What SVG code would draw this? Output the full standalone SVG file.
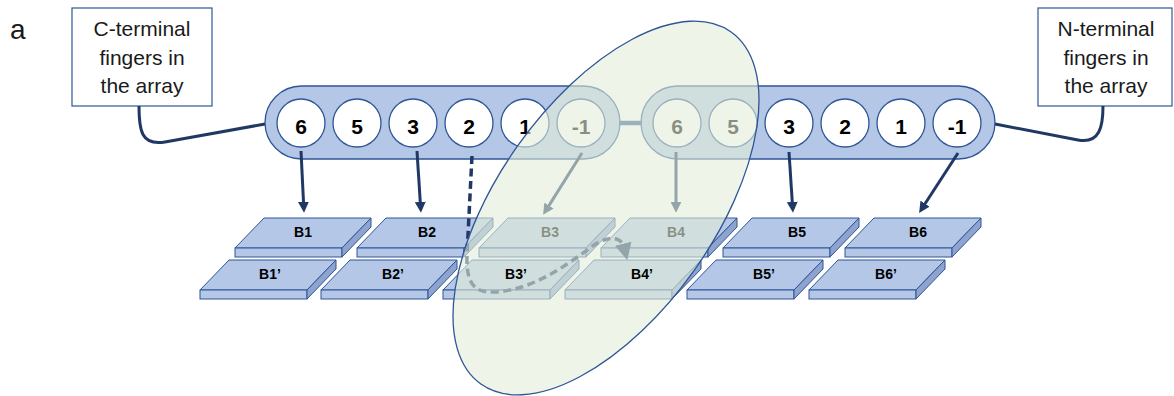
<svg xmlns="http://www.w3.org/2000/svg" width="1174" height="396" viewBox="0 0 1174 396">
  <style>
    .box { fill: #ffffff; stroke: #2f5597; stroke-width: 1.2; }
    .boxtxt { font-family: "Liberation Sans", Arial, sans-serif; font-size: 21px; fill: #1a1a1a; text-anchor: middle; }
    .pill { fill: #b4c7e7; stroke: #2f5597; stroke-width: 1.3; }
    .finger { fill: #ffffff; stroke: #2f5597; stroke-width: 1.3; }
    .ftxt { font-family: "Liberation Sans", Arial, sans-serif; font-size: 21px; font-weight: bold; fill: #000; text-anchor: middle; }
    .btxt { font-family: "Liberation Sans", Arial, sans-serif; font-size: 14px; font-weight: bold; fill: #000; text-anchor: middle; }
    .tether { fill: none; stroke: #203864; stroke-width: 3; }
    .arrow { fill: none; stroke: #203864; stroke-width: 3; marker-end: url(#head); }
    .dash { fill: none; stroke: #203864; stroke-width: 3.5; stroke-dasharray: 8 4.5; marker-end: url(#bighead); }
    .top { fill: #b4c7e7; stroke: #2f5597; stroke-width: 1; stroke-linejoin: round; }
    .front { fill: #b4c7e7; stroke: #2f5597; stroke-width: 1; }
    .side { fill: #8ea4cf; stroke: #2f5597; stroke-width: 1; stroke-linejoin: round; }
    .halo { fill: #e2efd9; fill-opacity: 0.6; stroke: #2f5597; stroke-width: 1.3; }
  </style>
  <defs>
    <marker id="head" viewBox="0 0 10 10" refX="2" refY="5" markerWidth="11" markerHeight="11" markerUnits="userSpaceOnUse" orient="auto">
      <path d="M0,0 L10,5 L0,10 z" fill="#203864"/>
    </marker>
    <marker id="bighead" viewBox="0 0 10 10" refX="2" refY="5" markerWidth="17" markerHeight="17" markerUnits="userSpaceOnUse" orient="auto">
      <path d="M0,0 L10,5 L0,10 z" fill="#203864"/>
    </marker>
    <!-- slab: origin at the front-left corner of the top face -->
    <g id="slab">
      <path class="top" d="M0,0 L29,-30 L136,-30 L107,0 Z"/>
      <rect class="front" x="0" y="0" width="107" height="9"/>
      <path class="side" d="M107,0 L136,-30 L136,-21 L107,9 Z"/>
    </g>
  </defs>

  <text x="10" y="39" font-family="Liberation Sans, Arial, sans-serif" font-size="28" fill="#1a1a1a">a</text>

  <!-- label boxes -->
  <g id="c-terminal-box">
    <rect class="box" x="72" y="8" width="140" height="98"/>
    <text class="boxtxt" x="142" y="36">C-terminal</text>
    <text class="boxtxt" x="142" y="65">fingers in</text>
    <text class="boxtxt" x="142" y="93">the array</text>
  </g>
  <g id="n-terminal-box">
    <rect class="box" x="1038" y="8" width="134" height="98"/>
    <text class="boxtxt" x="1106" y="36">N-terminal</text>
    <text class="boxtxt" x="1106" y="65">fingers in</text>
    <text class="boxtxt" x="1106" y="93">the array</text>
  </g>

  <!-- finger arrays -->
  <g id="left-array">
    <rect class="pill" x="265" y="86" width="355" height="73" rx="36.5"/>
  </g>
  <g id="right-array">
    <rect class="pill" x="641" y="86" width="354" height="73" rx="36.5"/>
  </g>
  <line x1="619" y1="123" x2="642" y2="123" stroke="#2f5597" stroke-width="4.5"/>

  <g id="fingers-left">
    <circle class="finger" cx="301" cy="123" r="24"/><text class="ftxt" x="301" y="134">6</text>
    <circle class="finger" cx="357" cy="123" r="24"/><text class="ftxt" x="357" y="134">5</text>
    <circle class="finger" cx="413" cy="123" r="24"/><text class="ftxt" x="413" y="134">3</text>
    <circle class="finger" cx="469" cy="123" r="24"/><text class="ftxt" x="469" y="134">2</text>
    <circle class="finger" cx="525" cy="123" r="24"/><text class="ftxt" x="525" y="134">1</text>
    <circle class="finger" cx="581" cy="123" r="24"/><text class="ftxt" x="581" y="134">-1</text>
  </g>
  <g id="fingers-right">
    <circle class="finger" cx="677" cy="123" r="24"/><text class="ftxt" x="677" y="134">6</text>
    <circle class="finger" cx="733" cy="123" r="24"/><text class="ftxt" x="733" y="134">5</text>
    <circle class="finger" cx="789" cy="123" r="24"/><text class="ftxt" x="789" y="134">3</text>
    <circle class="finger" cx="845" cy="123" r="24"/><text class="ftxt" x="845" y="134">2</text>
    <circle class="finger" cx="901" cy="123" r="24"/><text class="ftxt" x="901" y="134">1</text>
    <circle class="finger" cx="957" cy="123" r="24"/><text class="ftxt" x="957" y="134">-1</text>
  </g>

  <!-- DNA binding sites -->
  <g id="B1"><use href="#slab" x="235" y="248"/><text class="btxt" x="303" y="237">B1</text></g>
  <g id="B2"><use href="#slab" x="357" y="248"/><text class="btxt" x="427" y="237">B2</text></g>
  <g id="B3"><use href="#slab" x="479" y="248"/><text class="btxt" x="550" y="237">B3</text></g>
  <g id="B4"><use href="#slab" x="601" y="248"/><text class="btxt" x="676" y="237">B4</text></g>
  <g id="B5"><use href="#slab" x="723" y="248"/><text class="btxt" x="797" y="237">B5</text></g>
  <g id="B6"><use href="#slab" x="845" y="248"/><text class="btxt" x="918" y="237">B6</text></g>
  <g id="B1p"><use href="#slab" x="200" y="290"/><text class="btxt" x="270" y="279">B1’</text></g>
  <g id="B2p"><use href="#slab" x="321" y="290"/><text class="btxt" x="393" y="279">B2’</text></g>
  <g id="B3p"><use href="#slab" x="443" y="290"/></g>
  <g id="B4p"><use href="#slab" x="565" y="290"/></g>
  <g id="B5p"><use href="#slab" x="687" y="290"/><text class="btxt" x="764" y="279">B5’</text></g>
  <g id="B6p"><use href="#slab" x="809" y="290"/><text class="btxt" x="886" y="279">B6’</text></g>

  <!-- connectors -->
  <g id="connectors">
    <path class="tether" d="M265,124 L165,142 C141,146 139,130 139,106"/>
    <path class="tether" d="M995,124 L1078,140 C1100,144 1103,126 1103,106"/>
    <line class="arrow" x1="301" y1="151" x2="303.6" y2="204"/>
    <line class="arrow" x1="417" y1="151" x2="420.4" y2="204"/>
    <line class="arrow" x1="582" y1="153" x2="547.8" y2="207.4"/>
    <line class="arrow" x1="676" y1="152" x2="676" y2="204"/>
    <line class="arrow" x1="789" y1="152" x2="792.4" y2="204"/>
    <line class="arrow" x1="958" y1="153" x2="923.9" y2="205.5"/>
    <path class="dash" d="M472,156 L467,255 C466,285 475,293 495,292 C530,290 560,270 590,248 C605,236 621,235 624,247"/>
  </g>

  <!-- binding module highlight -->
  <ellipse class="halo" cx="606" cy="208" rx="108" ry="216" transform="rotate(35.4 606 208)"/>

  <g id="module-labels">
    <text class="btxt" x="516" y="279">B3’</text>
    <text class="btxt" x="642" y="279">B4’</text>
  </g>
</svg>
